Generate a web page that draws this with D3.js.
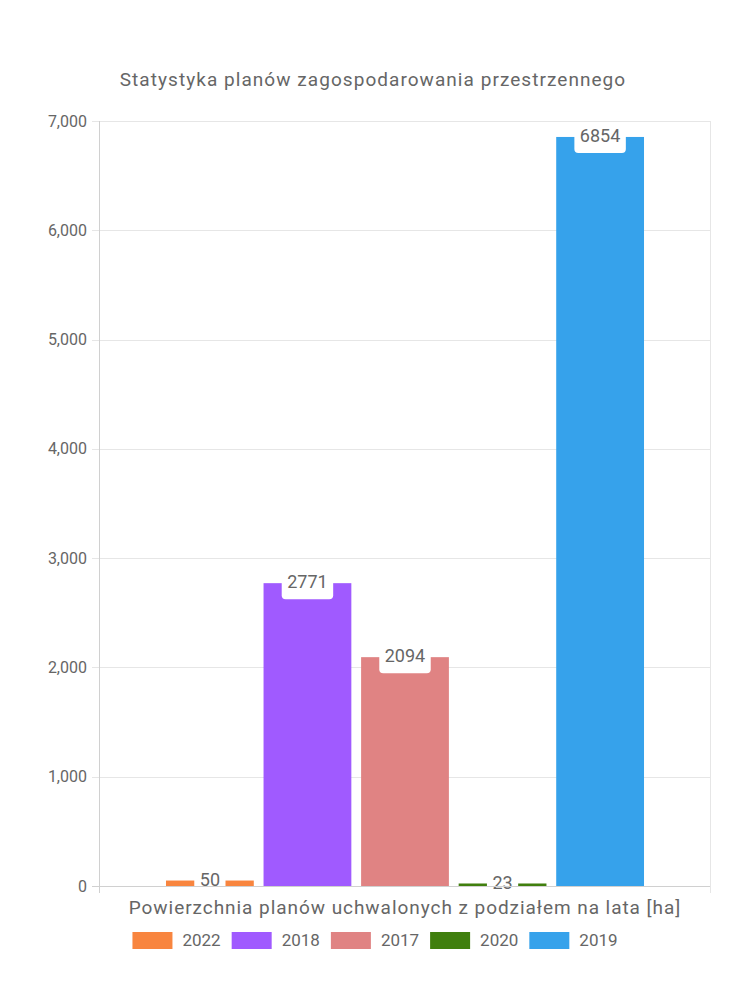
<!DOCTYPE html>
<html>
<head>
<meta charset="utf-8">
<script src="https://cdn.jsdelivr.net/npm/d3@7"></script>
<style>
  html, body { margin: 0; padding: 0; background: #fff; }
  svg { display: block; font-family: Roboto, "Noto Sans", sans-serif; }
</style>
</head>
<body>
<svg id="chart" width="750" height="1000"></svg>
<script>
const title = "Statystyka planów zagospodarowania przestrzennego";
const categories = ["Powierzchnia planów uchwalonych z podziałem na lata [ha]"];
const seriesNames = ["2022", "2018", "2017", "2020", "2019"];
const seriesValues = [50, 2771, 2094, 23, 6854];
const seriesColors = ["#f8853f", "#a05aff", "#e08383", "#407f0e", "#36a2eb"];
const yTickValues = [0, 1000, 2000, 3000, 4000, 5000, 6000, 7000];

(function () {
const svg = d3.select("#chart");
const W = 750;
const pL = 100, pR = 710, pT = 121, pB = 886;
const textColor = "#666";

const y = d3.scaleLinear().domain([0, 7000]).range([pB, pT]);
const x0 = d3.scaleBand().domain(categories).range([pL, pR])
  .paddingInner(0.1213).paddingOuter(0.1213);
const x1 = d3.scaleBand().domain(seriesNames).range([0, x0.bandwidth()])
  .paddingInner(0.1).paddingOuter(0);

// title
svg.append("text")
  .attr("x", W / 2 - 2).attr("y", 86)
  .attr("text-anchor", "middle")
  .attr("fill", textColor)
  .attr("font-size", 19)
  .attr("letter-spacing", 1.05)
  .text(title);

// gridlines
svg.append("g").selectAll("line").data(yTickValues).join("line")
  .attr("x1", pL - 8).attr("x2", pR)
  .attr("y1", d => Math.round(y(d)) + 0.5).attr("y2", d => Math.round(y(d)) + 0.5)
  .attr("stroke", "#e6e6e6").attr("stroke-width", 1);

// right border
svg.append("line")
  .attr("x1", pR + 0.5).attr("x2", pR + 0.5)
  .attr("y1", pT).attr("y2", pB + 7)
  .attr("stroke", "#e6e6e6");

// y tick labels
svg.append("g").selectAll("text").data(yTickValues).join("text")
  .attr("x", pL - 13).attr("y", d => y(d))
  .attr("dy", "0.35em")
  .attr("text-anchor", "end")
  .attr("fill", textColor)
  .attr("font-size", 16)
  .text(d => d3.format(",")(d));

// bars
const series = seriesNames.map((n, i) => ({ name: n, value: seriesValues[i], color: seriesColors[i] }));
const gBars = svg.append("g").attr("transform", `translate(${x0(categories[0])},0)`);
gBars.selectAll("rect").data(series).join("rect")
  .attr("x", d => x1(d.name))
  .attr("width", x1.bandwidth())
  .attr("y", d => y(d.value))
  .attr("height", d => y(0) - y(d.value))
  .attr("fill", d => d.color);

// data labels
const gLab = gBars.append("g");
series.forEach(d => {
  const cx = x1(d.name) + x1.bandwidth() / 2;
  const cy = y(d.value);
  const g = gLab.append("g");
  const t = g.append("text")
    .attr("x", cx).attr("y", cy - 1)
    .attr("dy", "0.35em")
    .attr("text-anchor", "middle")
    .attr("fill", textColor)
    .attr("font-size", 18)
    .text(d.value);
  const w = t.node().getComputedTextLength() + 11;
  g.insert("rect", "text")
    .attr("x", cx - w / 2).attr("y", cy - 13)
    .attr("width", w).attr("height", 29)
    .attr("rx", 4)
    .attr("fill", "#fff");
});

// axes lines
svg.append("line")
  .attr("x1", pL - 8).attr("x2", pR)
  .attr("y1", pB + 0.5).attr("y2", pB + 0.5)
  .attr("stroke", "#d0d0d0");
svg.append("line")
  .attr("x1", pL - 0.5).attr("x2", pL - 0.5)
  .attr("y1", pT).attr("y2", pB + 7)
  .attr("stroke", "#d0d0d0");

// x-axis label
svg.append("text")
  .attr("x", x0(categories[0]) + x0.bandwidth() / 2).attr("y", 914)
  .attr("text-anchor", "middle")
  .attr("fill", textColor)
  .attr("font-size", 19)
  .attr("letter-spacing", 0.95)
  .text(categories[0]);

// legend
const legend = svg.append("g");
const items = [];
series.forEach(d => {
  const g = legend.append("g");
  g.append("rect").attr("x", 0).attr("y", -8).attr("width", 40).attr("height", 17).attr("fill", d.color);
  const t = g.append("text").attr("x", 50).attr("y", 0).attr("dy", "0.35em")
    .attr("fill", textColor).attr("font-size", 17).text(d.name);
  const w = 50 + t.node().getComputedTextLength();
  items.push({ g, w });
});
const gap = 11;
const total = d3.sum(items, d => d.w) + gap * (items.length - 1);
let lx = W / 2 - total / 2;
items.forEach(it => {
  it.g.attr("transform", `translate(${lx},940)`);
  lx += it.w + gap;
});
})();
</script>
</body>
</html>
